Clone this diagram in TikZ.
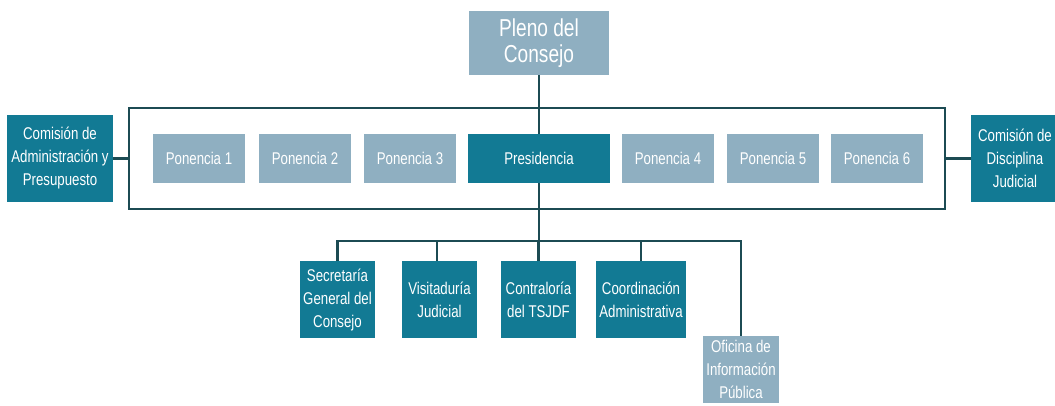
\documentclass[tikz,border=0pt]{standalone}
\usepackage{fontspec}
\setmainfont[FakeStretch=0.78]{Liberation Sans}
\definecolor{dark}{HTML}{127A94}
\definecolor{light}{HTML}{8FAFC1}
\definecolor{linec}{HTML}{1C4B53}
\tikzset{
  box/.style={rectangle, inner sep=0pt, text=white, align=center, font=\fontsize{17}{23}\selectfont},
  dbox/.style={box, fill=dark},
  lbox/.style={box, fill=light},
  conn/.style={draw=linec, line width=2.9pt},
}
\begin{document}
\begin{tikzpicture}[x=1pt,y=-1pt]
\useasboundingbox (0,0) rectangle (1055,405);
\node[draw=linec, line width=2.9pt, minimum width=816pt, minimum height=101pt, inner sep=0pt] (frame) at (537,158.5) {};
\node[lbox, minimum width=140pt, minimum height=64pt, font=\fontsize{24.5}{26}\selectfont] (pleno) at (539,43) {Pleno del\\Consejo};
\node[dbox, minimum width=106pt, minimum height=87pt] (coml) at (60,158.5) {Comisión de\\Administración y\\Presupuesto};
\node[dbox, minimum width=88pt, minimum height=87pt] (comr) at (1015,158.5) {Comisión de\\Disciplina\\Judicial};
\node[lbox, minimum width=92pt, minimum height=49pt] (p1) at (199,158.5) {Ponencia 1};
\node[lbox, minimum width=92pt, minimum height=49pt] (p2) at (305,158.5) {Ponencia 2};
\node[lbox, minimum width=92pt, minimum height=49pt] (p3) at (410,158.5) {Ponencia 3};
\node[dbox, minimum width=142pt, minimum height=49pt] (pres) at (539,158.5) {Presidencia};
\node[lbox, minimum width=92pt, minimum height=49pt] (p4) at (668,158.5) {Ponencia 4};
\node[lbox, minimum width=92pt, minimum height=49pt] (p5) at (773,158.5) {Ponencia 5};
\node[lbox, minimum width=92pt, minimum height=49pt] (p6) at (877,158.5) {Ponencia 6};
\node[dbox, minimum width=75pt, minimum height=77pt] (sec) at (337.5,299.5) {Secretaría\\General del\\Consejo};
\node[dbox, minimum width=75pt, minimum height=77pt] (vis) at (439.5,299.5) {Visitaduría\\Judicial};
\node[dbox, minimum width=75pt, minimum height=77pt] (con) at (538.5,299.5) {Contraloría\\del TSJDF};
\node[dbox, minimum width=90pt, minimum height=77pt] (coo) at (641,299.5) {Coordinación\\Administrativa};
\node[lbox, minimum width=76pt, minimum height=67pt] (ofi) at (741,369.5) {Oficina de\\Información\\Pública};
\coordinate (bus) at (539,241);
\draw[conn] (pleno.south) -- (pres.north);
\draw[conn] (pres.south) -- (bus);
\draw[conn] (sec.north) |- (bus) -| (ofi.north);
\draw[conn] ([xshift=-2.5pt]vis.north) -- ([xshift=-2.5pt]vis.north |- bus);
\draw[conn] (con.north) -- (con.north |- bus);
\draw[conn] (coo.north) -- (coo.north |- bus);
\draw[conn] (coml.east) -- (frame.west);
\draw[conn] (frame.east) -- (comr.west);
\end{tikzpicture}
\end{document}
